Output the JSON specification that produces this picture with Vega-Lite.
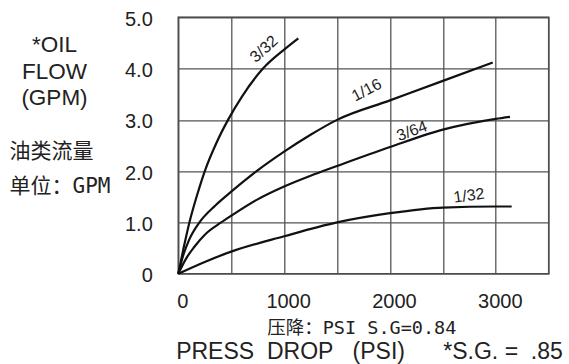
{
  "$schema": "https://vega.github.io/schema/vega-lite/v6.json",
  "width": 370.4,
  "height": 256.4,
  "autosize": "none",
  "padding": {"left": 178.3, "top": 17.3, "right": 20.3, "bottom": 90.3},
  "background": "white",
  "config": {
    "view": {"stroke": "#333", "strokeWidth": 1.5},
    "font": "Liberation Sans"
  },
  "title": {
    "text": "PRESS\u00a0\u00a0DROP\u00a0\u00a0\u00a0(PSI)\u00a0\u00a0\u00a0\u00a0\u00a0\u00a0*S.G.\u00a0=\u00a0\u00a0.85",
    "orient": "bottom",
    "anchor": "middle",
    "frame": "group",
    "font": "Liberation Sans",
    "fontSize": 23,
    "fontWeight": "normal",
    "color": "#222",
    "baseline": "alphabetic",
    "offset": 22,
    "dx": 6
  },
  "datasets": {
    "curves": [
      {"curve": "3/32", "psi": 0, "gpm": 0},
      {"curve": "3/32", "psi": 50, "gpm": 0.5},
      {"curve": "3/32", "psi": 105, "gpm": 1.0},
      {"curve": "3/32", "psi": 180, "gpm": 1.55},
      {"curve": "3/32", "psi": 259, "gpm": 2.05},
      {"curve": "3/32", "psi": 360, "gpm": 2.55},
      {"curve": "3/32", "psi": 470, "gpm": 3.0},
      {"curve": "3/32", "psi": 600, "gpm": 3.45},
      {"curve": "3/32", "psi": 800, "gpm": 4.0},
      {"curve": "3/32", "psi": 1000, "gpm": 4.37},
      {"curve": "3/32", "psi": 1134, "gpm": 4.59},
      {"curve": "1/16", "psi": 0, "gpm": 0},
      {"curve": "1/16", "psi": 50, "gpm": 0.38},
      {"curve": "1/16", "psi": 100, "gpm": 0.65},
      {"curve": "1/16", "psi": 200, "gpm": 1.0},
      {"curve": "1/16", "psi": 350, "gpm": 1.33},
      {"curve": "1/16", "psi": 500, "gpm": 1.6},
      {"curve": "1/16", "psi": 740, "gpm": 2.0},
      {"curve": "1/16", "psi": 1000, "gpm": 2.38},
      {"curve": "1/16", "psi": 1250, "gpm": 2.71},
      {"curve": "1/16", "psi": 1500, "gpm": 3.0},
      {"curve": "1/16", "psi": 2000, "gpm": 3.38},
      {"curve": "1/16", "psi": 2500, "gpm": 3.76},
      {"curve": "1/16", "psi": 2971, "gpm": 4.12},
      {"curve": "3/64", "psi": 0, "gpm": 0},
      {"curve": "3/64", "psi": 75, "gpm": 0.3},
      {"curve": "3/64", "psi": 150, "gpm": 0.52},
      {"curve": "3/64", "psi": 260, "gpm": 0.78},
      {"curve": "3/64", "psi": 405, "gpm": 1.0},
      {"curve": "3/64", "psi": 500, "gpm": 1.13},
      {"curve": "3/64", "psi": 750, "gpm": 1.45},
      {"curve": "3/64", "psi": 1000, "gpm": 1.7},
      {"curve": "3/64", "psi": 1250, "gpm": 1.91},
      {"curve": "3/64", "psi": 1500, "gpm": 2.1},
      {"curve": "3/64", "psi": 2000, "gpm": 2.47},
      {"curve": "3/64", "psi": 2500, "gpm": 2.81},
      {"curve": "3/64", "psi": 3000, "gpm": 3.02},
      {"curve": "3/64", "psi": 3134, "gpm": 3.06},
      {"curve": "1/32", "psi": 0, "gpm": 0},
      {"curve": "1/32", "psi": 250, "gpm": 0.23},
      {"curve": "1/32", "psi": 500, "gpm": 0.43},
      {"curve": "1/32", "psi": 1000, "gpm": 0.73},
      {"curve": "1/32", "psi": 1500, "gpm": 1.0},
      {"curve": "1/32", "psi": 2000, "gpm": 1.18},
      {"curve": "1/32", "psi": 2500, "gpm": 1.29},
      {"curve": "1/32", "psi": 3000, "gpm": 1.31},
      {"curve": "1/32", "psi": 3150, "gpm": 1.31}
    ],
    "labels": [
      {"curve": "3/32", "psi": 810, "gpm": 4.38},
      {"curve": "1/16", "psi": 1780, "gpm": 3.58},
      {"curve": "3/64", "psi": 2208, "gpm": 2.78},
      {"curve": "1/32", "psi": 2747, "gpm": 1.52}
    ]
  },
  "encoding": {
    "x": {
      "field": "psi", "type": "quantitative",
      "scale": {"domain": [0, 3500], "nice": false, "zero": true},
      "axis": {
        "values": [0, 500, 1000, 1500, 2000, 2500, 3000, 3500],
        "grid": true, "gridColor": "#555", "gridWidth": 1.3, "gridOpacity": 1,
        "domain": false, "ticks": false, "tickSize": 0,
        "labelExpr": "datum.value % 1000 === 0 ? format(datum.value, 'd') : ''",
        "labelFont": "Liberation Sans", "labelFontSize": 20, "labelColor": "#222",
        "labelBaseline": "alphabetic", "labelPadding": 34, "labelOffset": 4,
        "labelFlush": false, "labelOverlap": false,
        "title": "压降：PSI S.G=0.84",
        "titleFont": "DejaVu Sans Mono, Noto Sans CJK SC", "titleFontSize": 18.5,
        "titleFontWeight": "normal", "titleColor": "#222",
        "titleAlign": "center", "titleBaseline": "alphabetic",
        "titleX": 183, "titleY": 60
      }
    }
  },
  "resolve": {"axis": {"y": "independent"}},
  "layer": [
    {
      "data": {"name": "curves"},
      "mark": {"type": "line", "color": "#111", "strokeWidth": 2.2, "interpolate": "monotone"},
      "encoding": {
        "y": {
          "field": "gpm", "type": "quantitative",
          "scale": {"domain": [0, 5], "nice": false, "zero": true},
          "axis": {
            "orient": "left",
            "values": [0, 1, 2, 3, 4, 5],
            "grid": true, "gridColor": "#555", "gridWidth": 1.3, "gridOpacity": 1,
            "domain": false, "ticks": false, "tickSize": 0,
            "labelExpr": "datum.value === 0 ? '0' : format(datum.value, '.1f')",
            "labelFont": "Liberation Sans", "labelFontSize": 20, "labelColor": "#222",
            "labelPadding": 26, "labelOffset": 2, "labelBaseline": "middle",
            "labelFlush": false, "labelOverlap": false,
            "title": ["*OIL", "FLOW", "(GPM)"],
            "titleFont": "Liberation Sans", "titleFontSize": 22.5,
            "titleFontWeight": "normal", "titleColor": "#222",
            "titleAngle": 0, "titleAlign": "center", "titleBaseline": "alphabetic",
            "titleLineHeight": 26.5,
            "titleX": -124.3, "titleY": 34.3
          }
        },
        "detail": {"field": "curve"}
      }
    },
    {
      "data": {"name": "labels"},
      "transform": [{"filter": "datum.curve === '3/32'"}],
      "mark": {"type": "text", "angle": 318, "font": "Liberation Sans", "fontSize": 16, "color": "#222", "align": "center", "baseline": "middle"},
      "encoding": {
        "y": {
          "field": "gpm", "type": "quantitative",
          "scale": {"domain": [0, 5], "nice": false, "zero": true},
          "axis": {
            "orient": "left",
            "grid": false, "domain": false, "ticks": false, "labels": false,
            "title": ["油类流量", "单位：GPM"],
            "titleFont": "DejaVu Sans Mono, Noto Sans CJK SC", "titleFontSize": 21,
            "titleFontWeight": "normal", "titleColor": "#222",
            "titleAngle": 0, "titleAlign": "left", "titleBaseline": "alphabetic",
            "titleLineHeight": 35,
            "titleX": -169.3, "titleY": 139.7
          }
        },
        "text": {"field": "curve"}
      }
    },
    {
      "data": {"name": "labels"},
      "transform": [{"filter": "datum.curve === '1/16'"}],
      "mark": {"type": "text", "angle": 332, "font": "Liberation Sans", "fontSize": 16, "color": "#222", "align": "center", "baseline": "middle"},
      "encoding": {
        "y": {"field": "gpm", "type": "quantitative", "scale": {"domain": [0, 5], "nice": false, "zero": true}, "axis": null},
        "text": {"field": "curve"}
      }
    },
    {
      "data": {"name": "labels"},
      "transform": [{"filter": "datum.curve === '3/64'"}],
      "mark": {"type": "text", "angle": 340, "font": "Liberation Sans", "fontSize": 16, "color": "#222", "align": "center", "baseline": "middle"},
      "encoding": {
        "y": {"field": "gpm", "type": "quantitative", "scale": {"domain": [0, 5], "nice": false, "zero": true}, "axis": null},
        "text": {"field": "curve"}
      }
    },
    {
      "data": {"name": "labels"},
      "transform": [{"filter": "datum.curve === '1/32'"}],
      "mark": {"type": "text", "angle": 352, "font": "Liberation Sans", "fontSize": 16, "color": "#222", "align": "center", "baseline": "middle"},
      "encoding": {
        "y": {"field": "gpm", "type": "quantitative", "scale": {"domain": [0, 5], "nice": false, "zero": true}, "axis": null},
        "text": {"field": "curve"}
      }
    }
  ]
}
